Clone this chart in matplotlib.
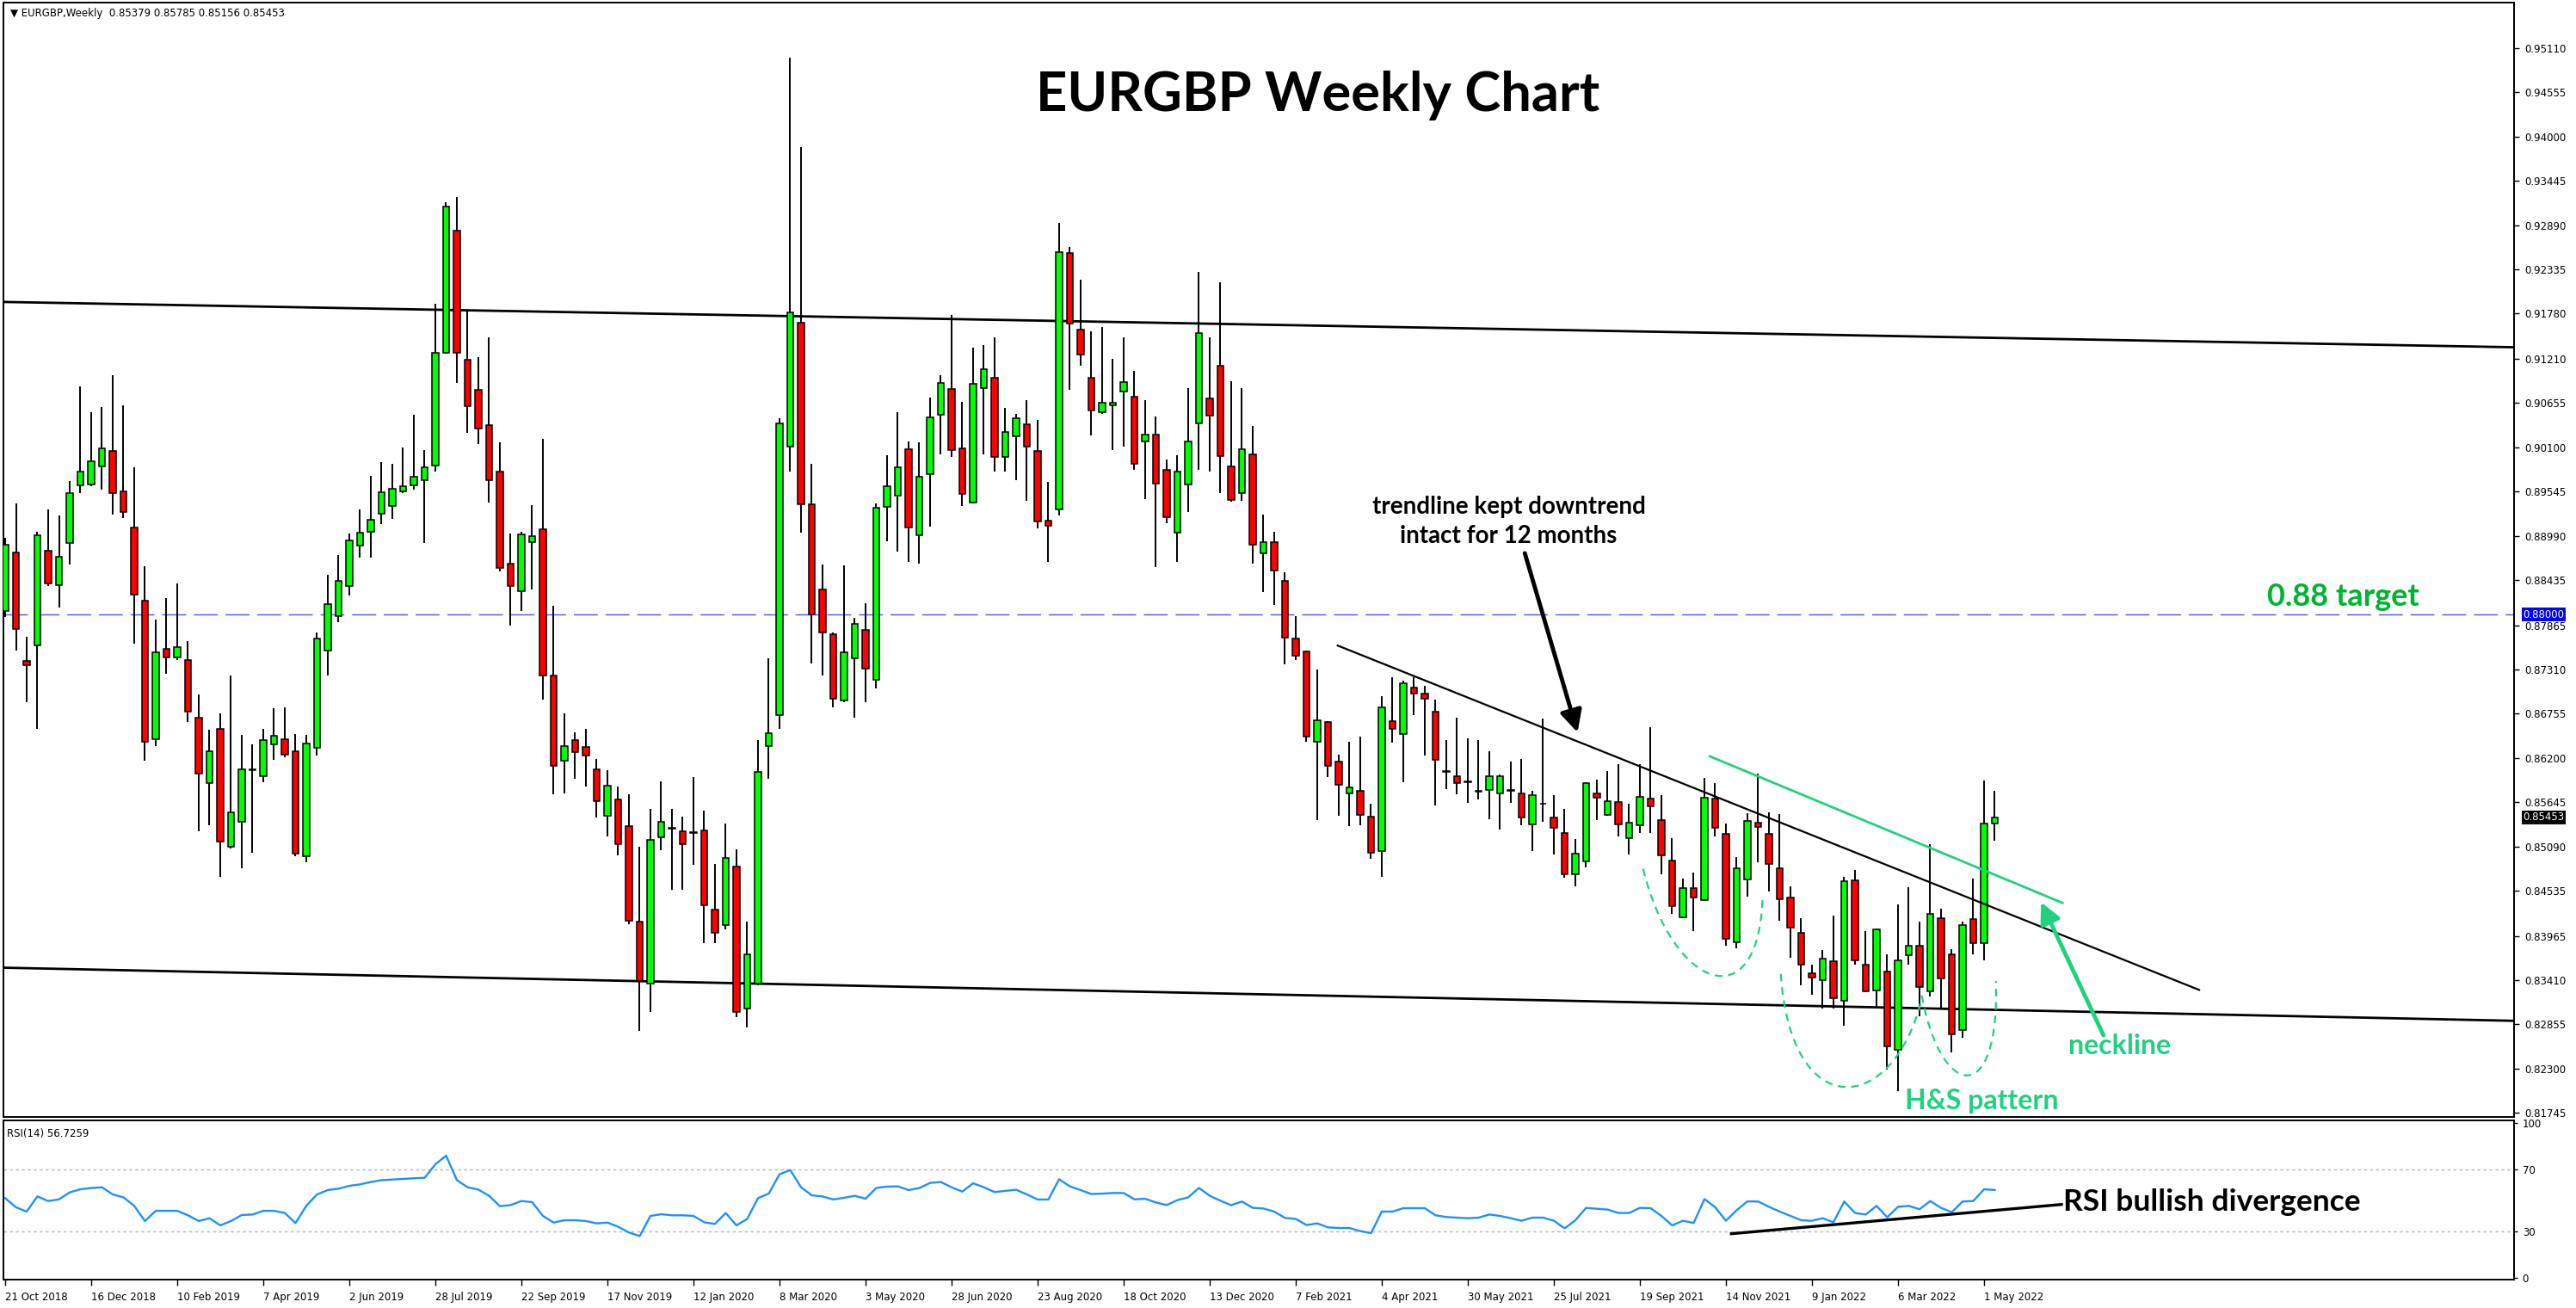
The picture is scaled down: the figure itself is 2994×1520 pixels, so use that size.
import numpy as np
import matplotlib
matplotlib.use("Agg")
import matplotlib.pyplot as plt
from matplotlib.path import Path
from matplotlib.patches import PathPatch

# ---------------- data (weekly EURGBP, 21 Oct 2018 .. 8 May 2022) ----------------
opens = [
 .8804,.8878,.8742,.8761,.8880,.8837,.8890,.8962,.8963,.8986,
 .9005,.8955,.8909,.8818,.8644,.8757,.8746,.8743,.8671,.8588,
 .8656,.8508,.8540,.8606,.8597,.8637,.8644,.8628,.8497,.8633,
 .8755,.8798,.8836,.8887,.8904,.8927,.8936,.8955,.8962,.8969,
 .8987,.9129,.9282,.9120,.9082,.9038,.8979,.8864,.8829,.8891,
 .8907,.8724,.8617,.8642,.8634,.8606,.8547,.8568,.8534,.8415,
 .8337,.8520,.8532,.8528,.8526,.8529,.8430,.8410,.8484,.8305,
 .8337,.8635,.8674,.9011,.9166,.8939,.8832,.8775,.8692,.8745,
 .8781,.8718,.8935,.8949,.9008,.8900,.8976,.9051,.9083,.9009,
 .8941,.9084,.9097,.8998,.9024,.9039,.9005,.8918,.8932,.9254,
 .9158,.9097,.9054,.9063,.9080,.9073,.9017,.9026,.8982,.8903,
 .8963,.9040,.9071,.9112,.8986,.8953,.9001,.8877,.8891,.8842,
 .8770,.8754,.8640,.8665,.8616,.8576,.8579,.8546,.8503,.8666,
 .8650,.8708,.8701,.8678,.8604,.8597,.8590,.8579,.8580,.8576,
 .8579,.8575,.8537,.8563,.8545,.8526,.8474,.8490,.8576,.8548,
 .8565,.8519,.8535,.8569,.8542,.8491,.8420,.8457,.8441,.8569,
 .8525,.8389,.8467,.8539,.8525,.8482,.8445,.8401,.8350,.8341,
 .8365,.8315,.8466,.8360,.8328,.8352,.8254,.8372,.8384,.8327,
 .8419,.8374,.8278,.8418,.8387,.85379]
highs = [
 .8896,.8940,.8772,.8904,.8932,.8924,.8968,.9087,.9054,.9061,
 .9100,.9063,.8985,.8861,.8794,.8821,.8839,.8767,.8700,.8655,
 .8676,.8723,.8649,.8637,.8657,.8682,.8683,.8650,.8649,.8778,
 .8850,.8875,.8902,.8932,.8974,.8991,.8989,.9010,.9051,.9006,
 .9190,.9318,.9324,.9182,.9123,.9148,.9016,.8902,.8904,.8937,
 .9021,.8811,.8676,.8652,.8657,.8619,.8605,.8584,.8574,.8508,
 .8556,.8591,.8556,.8546,.8596,.8554,.8487,.8538,.8505,.8415,
 .8643,.8745,.9047,.9499,.9387,.8989,.8863,.8778,.8862,.8796,
 .8814,.8940,.9000,.9054,.9017,.9016,.9072,.9100,.9176,.9067,
 .9135,.9138,.9148,.9060,.9052,.9069,.9044,.8967,.9292,.9261,
 .9220,.9156,.9161,.9121,.9148,.9106,.9069,.9049,.8995,.9000,
 .9084,.9230,.9148,.9217,.9093,.9084,.9037,.8925,.8904,.8853,
 .8798,.8755,.8731,.8666,.8624,.8640,.8647,.8563,.8698,.8721,
 .8717,.8721,.8710,.8693,.8643,.8671,.8645,.8643,.8628,.8599,
 .8615,.8619,.8579,.8670,.8573,.8556,.8518,.8590,.8593,.8604,
 .8612,.8563,.8612,.8659,.8573,.8519,.8469,.8476,.8595,.8589,
 .8538,.8496,.8551,.8600,.8552,.8550,.8459,.8419,.8361,.8379,
 .8422,.8471,.8479,.8403,.8406,.8373,.8436,.8458,.8415,.8512,
 .8431,.8380,.8415,.8469,.8592,.85785]
lows = [
 .8797,.8755,.8690,.8656,.8836,.8809,.8863,.8952,.8961,.8957,
 .8926,.8921,.8763,.8617,.8635,.8726,.8743,.8665,.8528,.8536,
 .8471,.8506,.8482,.8501,.8590,.8618,.8621,.8497,.8489,.8623,
 .8723,.8790,.8824,.8871,.8871,.8914,.8920,.8952,.8957,.8890,
 .8980,.9127,.9091,.9028,.9014,.8941,.8854,.8786,.8804,.8831,
 .8693,.8574,.8575,.8594,.8584,.8545,.8521,.8498,.8411,.8277,
 .8301,.8504,.8454,.8454,.8486,.8388,.8387,.8405,.8295,.8282,
 .8335,.8594,.8656,.8980,.8903,.8739,.8724,.8683,.8690,.8671,
 .8690,.8707,.8892,.8879,.8866,.8864,.8910,.9001,.8998,.8936,
 .8940,.9001,.8980,.8980,.8969,.8943,.8908,.8866,.8924,.9082,
 .9112,.9025,.9052,.9007,.9011,.8982,.8945,.8860,.8915,.8866,
 .8929,.8982,.8980,.8952,.8942,.8943,.8864,.8828,.8812,.8738,
 .8743,.8640,.8542,.8596,.8547,.8534,.8536,.8493,.8471,.8639,
 .8590,.8674,.8623,.8560,.8581,.8574,.8564,.8568,.8543,.8530,
 .8564,.8536,.8503,.8540,.8499,.8470,.8459,.8483,.8542,.8547,
 .8521,.8499,.8526,.8526,.8474,.8424,.8419,.8403,.8440,.8521,
 .8384,.8381,.8446,.8489,.8452,.8416,.8369,.8335,.8323,.8305,
 .8305,.8284,.8360,.8326,.8305,.8229,.8202,.8360,.8296,.8321,
 .8305,.8250,.8269,.8373,.8366,.85156]
closes = [
 .8888,.8782,.8737,.8900,.8839,.8873,.8952,.8979,.8993,.9009,
 .8953,.8929,.8825,.8640,.8753,.8746,.8759,.8678,.8600,.8628,
 .8515,.8552,.8606,.8605,.8643,.8648,.8624,.8500,.8638,.8770,
 .8813,.8842,.8893,.8903,.8919,.8954,.8958,.8961,.8973,.8985,
 .9129,.9312,.9129,.9062,.9034,.8969,.8858,.8836,.8901,.8898,
 .8724,.8610,.8635,.8627,.8623,.8566,.8585,.8512,.8416,.8340,
 .8517,.8540,.8531,.8512,.8527,.8435,.8400,.8495,.8301,.8373,
 .8603,.8651,.9040,.9179,.8939,.8800,.8777,.8694,.8753,.8788,
 .8732,.8934,.8961,.8985,.8909,.8973,.9048,.9091,.9007,.8951,
 .9090,.9108,.8998,.9029,.9047,.9011,.8917,.8912,.9255,.9165,
 .9126,.9056,.9066,.9066,.9092,.8989,.9026,.8964,.8922,.8980,
 .9017,.9153,.9050,.8999,.8944,.9008,.8888,.8891,.8855,.8771,
 .8748,.8647,.8667,.8610,.8586,.8583,.8549,.8501,.8684,.8656,
 .8714,.8701,.8694,.8618,.8603,.8589,.8591,.8578,.8597,.8597,
 .8580,.8545,.8573,.8562,.8532,.8474,.8500,.8588,.8570,.8566,
 .8537,.8539,.8571,.8559,.8498,.8434,.8457,.8445,.8570,.8532,
 .8393,.8482,.8541,.8533,.8487,.8443,.8407,.8360,.8344,.8368,
 .8318,.8465,.8366,.8327,.8405,.8258,.8366,.8384,.8332,.8424,
 .8343,.8273,.8410,.8387,.8538,.85453]
rsi = [
 51.5,45.6,42.8,52.6,49.6,50.7,55.2,57.2,58.0,58.5,
 53.9,52.0,46.5,36.7,43.3,43.3,43.3,40.4,36.7,38.5,
 33.9,36.7,40.6,40.9,43.3,43.3,41.9,35.4,46.5,53.9,
 56.7,57.6,59.4,60.4,61.9,63.1,63.5,63.9,64.3,64.6,
 73.3,78.9,63.1,58.5,57.0,53.0,46.3,47.0,49.6,48.9,
 40.0,35.7,37.2,37.2,36.7,35.2,35.7,33.0,29.3,27.0,
 40.0,41.1,40.4,40.4,40.0,35.9,34.8,41.9,33.9,38.1,
 51.5,54.4,66.9,69.6,58.5,53.3,52.6,50.6,51.7,53.0,
 51.1,58.1,58.9,59.1,56.7,58.0,61.3,61.9,58.5,55.7,
 61.1,58.5,55.4,56.2,56.9,53.9,50.6,50.6,63.7,59.1,
 56.7,54.1,54.4,54.8,54.8,50.7,51.1,48.7,47.0,50.2,
 52.0,58.1,53.0,49.8,46.9,49.3,45.2,44.8,42.8,38.7,
 38.1,34.1,35.2,32.6,32.2,32.2,30.2,28.9,42.8,42.8,
 45.0,45.0,45.0,40.4,39.3,38.9,38.5,38.9,40.9,40.0,
 38.5,36.9,38.9,38.9,36.9,32.0,37.2,45.2,44.6,44.1,
 41.9,41.9,45.2,45.0,40.0,33.9,36.9,35.4,50.9,45.6,
 36.9,43.7,49.4,49.3,45.9,42.8,40.0,37.2,36.9,38.5,
 35.9,49.3,41.9,40.9,46.5,39.1,45.9,46.5,44.3,49.6,
 45.2,42.4,49.3,49.6,57.2,56.7259]

date_labels = ["21 Oct 2018", "16 Dec 2018", "10 Feb 2019", "7 Apr 2019", "2 Jun 2019",
               "28 Jul 2019", "22 Sep 2019", "17 Nov 2019", "12 Jan 2020", "8 Mar 2020",
               "3 May 2020", "28 Jun 2020", "23 Aug 2020", "18 Oct 2020", "13 Dec 2020",
               "7 Feb 2021", "4 Apr 2021", "30 May 2021", "25 Jul 2021", "19 Sep 2021",
               "14 Nov 2021", "9 Jan 2022", "6 Mar 2022", "1 May 2022"]
date_label_step = 8  # weeks between labels

price_ticks = [0.95110, 0.94555, 0.94000, 0.93445, 0.92890, 0.92335, 0.91780, 0.91210,
               0.90655, 0.90100, 0.89545, 0.88990, 0.88435, 0.87865, 0.87310, 0.86755,
               0.86200, 0.85645, 0.85090, 0.84535, 0.83965, 0.83410, 0.82855, 0.82300,
               0.81745]
rsi_ticks = [100, 70, 30, 0]
target_level = 0.88

# ---------------- figure ----------------
W, H = 2994, 1520
DPI = 100
fig = plt.figure(figsize=(W / DPI, H / DPI), dpi=DPI)
fig.patch.set_facecolor("white")

def fx(px):
    return px / W

def fy(py):
    return 1 - py / H

ax_left, ax_right = 4, 2922
ax = fig.add_axes([fx(ax_left), fy(1298), fx(ax_right - ax_left), (1298 - 3) / H])
axr = fig.add_axes([fx(ax_left), fy(1487), fx(ax_right - ax_left), (1487 - 1302) / H])

n = len(closes)
idx = np.arange(n)
o = np.array(opens); h = np.array(highs); l = np.array(lows); c = np.array(closes)
up = c >= o

xlim = (-0.16, 233.28)
ax.set_xlim(*xlim)
ax.set_ylim(0.81693, 0.95683)

# candles
ax.vlines(idx, l, h, color="black", lw=1.4, zorder=3)
ax.bar(idx, np.abs(c - o), bottom=np.minimum(o, c), width=0.58,
       color=np.where(up, "#00ff00", "#ff0000"), edgecolor="black",
       linewidth=1.1, zorder=4)

# target dashed line
ax.axhline(target_level, color="#4d4dff", lw=1.0, dashes=(20, 6.5), zorder=2)

# channel lines
ax.plot([xlim[0], xlim[1]], [0.91925, 0.91356], color="black", lw=2.0, zorder=2)
ax.plot([xlim[0], xlim[1]], [0.83567, 0.82900], color="black", lw=2.0, zorder=2)
# downtrend trendline
ax.plot([123.9, 204.0], [0.87611, 0.83288], color="black", lw=1.6, zorder=5)
# neckline
mint = "#20d27f"
ax.plot([158.5, 191.3], [0.86221, 0.84380], color=mint, lw=2.0, zorder=5)

# H&S dashed arcs (cubic Bezier)
arcs = [
    [(152.3, 0.8481), (155.0, 0.8330), (163.0, 0.8290), (163.4, 0.8443)],
    [(165.1, 0.8349), (166.0, 0.8160), (175.5, 0.8170), (178.2, 0.8317)],
    [(178.2, 0.8322), (180.0, 0.8190), (185.5, 0.8180), (185.1, 0.8340)],
]
for pts in arcs:
    path = Path(pts, [Path.MOVETO, Path.CURVE4, Path.CURVE4, Path.CURVE4])
    ax.add_patch(PathPatch(path, fill=False, edgecolor=mint, lw=1.6,
                           linestyle=(0, (4, 3)), zorder=5))

# annotations
ax.text(139.8, 0.8917, "trendline kept downtrend\nintact for 12 months",
        ha="center", va="center", fontsize=20, fontweight="bold", family="Lato",
        linespacing=1.35, color="black", zorder=6)
ax.annotate("", xy=(146.2, 0.8652), xytext=(141.3, 0.8877),
            arrowprops=dict(arrowstyle="-|>", lw=3.5, color="black", mutation_scale=38,
                            shrinkA=0, shrinkB=0), zorder=6)
ax.text(217.4, 0.8822, "0.88 target", ha="center", va="center", fontsize=26,
        fontweight="bold", family="Lato", color="#00b332", zorder=6)
ax.text(196.6, 0.8258, "neckline", ha="center", va="center", fontsize=23,
        fontweight="bold", family="Lato", color=mint, zorder=6)
ax.annotate("", xy=(189.3, 0.8439), xytext=(195.1, 0.8272),
            arrowprops=dict(arrowstyle="-|>", lw=3.5, color=mint, mutation_scale=36,
                            shrinkA=0, shrinkB=0), zorder=6)
ax.text(183.8, 0.8189, "H&S pattern", ha="center", va="center", fontsize=23,
        fontweight="bold", family="Lato", color=mint, zorder=6)

fig.text(fx(1532), fy(111), "EURGBP Weekly Chart", ha="center", va="center",
         fontsize=45.5, fontweight="bold", family="Lato", color="black")

ax.text(0.0027, 0.9905, "\u25BC EURGBP,Weekly  0.85379 0.85785 0.85156 0.85453",
        transform=ax.transAxes, ha="left", va="center", fontsize=8.5, color="black")

# price axis
ax.set_xticks([])
ax.yaxis.tick_right()
ax.set_yticks(price_ticks)
ax.set_yticklabels([f"{v:.5f}" for v in price_ticks])
ax.tick_params(axis="y", direction="out", length=4, width=1, pad=5, labelsize=8.5,
               colors="black")
for s in ax.spines.values():
    s.set_linewidth(1.4)
    s.set_color("black")

tr = ax.get_yaxis_transform()
ax.text(1.0035, target_level, "0.88000", transform=tr, ha="left", va="center",
        fontsize=8.5, color="white",
        bbox=dict(boxstyle="square,pad=0.12", fc="#0000ff", ec="none"), zorder=10, clip_on=False)
ax.text(1.0035, closes[-1], f"{closes[-1]:.5f}", transform=tr, ha="left", va="center",
        fontsize=8.5, color="white",
        bbox=dict(boxstyle="square,pad=0.12", fc="black", ec="none"), zorder=10, clip_on=False)

# ---------------- RSI panel ----------------
axr.set_xlim(*xlim)
axr.set_ylim(-1.11, 101.67)
axr.plot(idx, rsi, color="#1e90ff", lw=1.7, zorder=3)
axr.axhline(70, color="#b4b4b4", lw=1.0, dashes=(2.5, 2.5), zorder=1)
axr.axhline(30, color="#b4b4b4", lw=1.0, dashes=(2.5, 2.5), zorder=1)
axr.plot([160.5, 191.2], [28.5, 47.4], color="black", lw=2.4, zorder=4)
axr.text(191.4, 49.0, "RSI bullish divergence", ha="left", va="center", fontsize=25.5,
         fontweight="bold", family="Lato", color="black", zorder=5)
axr.text(0.0015, 0.915, "RSI(14) 56.7259", transform=axr.transAxes, ha="left",
         va="center", fontsize=8.5, color="black")

axr.yaxis.tick_right()
axr.set_yticks(rsi_ticks)
axr.set_yticklabels([str(v) for v in rsi_ticks])
axr.tick_params(axis="y", direction="out", length=3, width=1, pad=4, labelsize=8.5)
xt = np.arange(0, n, date_label_step)
axr.set_xticks(xt)
axr.set_xticklabels(date_labels, ha="left")
axr.tick_params(axis="x", direction="out", length=5, width=1, pad=5, labelsize=8.5)
for s in axr.spines.values():
    s.set_linewidth(1.4)
    s.set_color("black")

fig.savefig("out.png", dpi=DPI, facecolor="white")
